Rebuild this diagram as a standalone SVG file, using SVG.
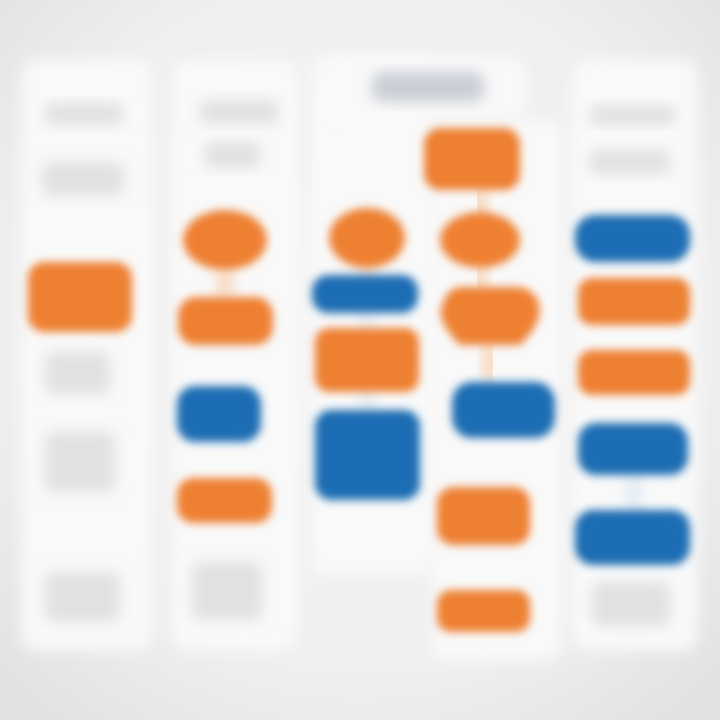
<svg xmlns="http://www.w3.org/2000/svg" width="720" height="720" viewBox="0 0 720 720">
<defs>
<radialGradient id="bg" cx="50%" cy="45%" r="70%">
<stop offset="0" stop-color="#f6f6f6"/><stop offset="0.7" stop-color="#efefef"/><stop offset="1" stop-color="#e2e2e2"/>
</radialGradient>
<filter id="blur" x="-30%" y="-30%" width="160%" height="160%"><feGaussianBlur stdDeviation="4"/></filter>
<filter id="soft" x="-30%" y="-30%" width="160%" height="160%"><feGaussianBlur stdDeviation="7"/></filter>
<style>
.o{fill:#EE8033;filter:url(#blur)}
.b{fill:#1F6DB3;filter:url(#blur)}
.g{fill:#e1e1e1;filter:url(#soft)}
.p{fill:#f9f9f9;filter:url(#soft)}
.c{stroke:#f6d4b8;stroke-width:14;filter:url(#soft);fill:none}
.cb{stroke:#dbe7f2;stroke-width:12;filter:url(#soft);fill:none}
</style>
</defs>
<rect width="720" height="720" fill="url(#bg)"/>
<g id="panels">
<rect class="p" x="22" y="60" width="130" height="590" rx="14"/>
<rect class="p" x="172" y="60" width="125" height="590" rx="14"/>
<rect class="p" x="312" y="55" width="120" height="520" rx="14"/>
<rect class="p" x="335" y="58" width="190" height="60" rx="12"/>
<rect class="p" x="432" y="120" width="130" height="540" rx="14"/>
<rect class="p" x="572" y="60" width="125" height="590" rx="14"/>
</g>
<g id="connectors">
<path class="c" d="M480 190 V215 M480 268 V290 M490 345 V380"/>
<path class="c" d="M634 325 V352 M634 262 V280"/>
<path class="c" d="M225 270 V298 M367 268 V278"/>
<path class="cb" d="M367 312 V328 M367 392 V410 M634 475 V512"/>
</g>
<g id="col1">
<rect class="g" x="45" y="103" width="78" height="22" rx="6"/>
<rect class="g" x="42" y="162" width="82" height="34" rx="8"/>
<rect id="n1" class="o" x="28" y="262" width="104" height="70" rx="16"/>
<rect class="g" x="45" y="352" width="65" height="42" rx="8"/>
<rect class="g" x="45" y="432" width="70" height="60" rx="8"/>
<rect class="g" x="45" y="572" width="75" height="50" rx="8"/>
</g>
<g id="col2">
<rect class="g" x="200" y="100" width="78" height="24" rx="6"/>
<rect class="g" x="205" y="142" width="55" height="26" rx="6"/>
<ellipse id="n2" class="o" cx="225" cy="240" rx="42" ry="30"/>
<rect id="n3" class="o" x="178" y="297" width="95" height="48" rx="18"/>
<rect id="n4" class="b" x="177" y="386" width="84" height="56" rx="18"/>
<rect id="n5" class="o" x="177" y="478" width="95" height="45" rx="16"/>
<rect class="g" x="192" y="562" width="70" height="58" rx="8"/>
</g>
<g id="col3">
<rect id="title" class="g" x="372" y="72" width="112" height="30" rx="10" style="fill:#c9ced6"/>
<ellipse id="n6" class="o" cx="367" cy="238" rx="38" ry="30"/>
<rect id="n7" class="b" x="312" y="275" width="106" height="38" rx="16"/>
<rect id="n8" class="o" x="315" y="328" width="104" height="64" rx="14"/>
<rect id="n9" class="b" x="315" y="410" width="105" height="90" rx="16"/>
</g>
<g id="col4">
<rect id="n10" class="o" x="424" y="128" width="96" height="62" rx="16"/>
<ellipse id="n11" class="o" cx="480" cy="240" rx="40" ry="28"/>
<path id="n12" class="o" d="M462 287 H518 Q530 287 538 300 L540 313 Q536 330 520 345 H460 Q444 330 440 313 L444 300 Q450 287 462 287 Z"/>
<rect id="n13" class="b" x="452" y="382" width="103" height="56" rx="20"/>
<rect id="n14" class="o" x="437" y="487" width="93" height="58" rx="16"/>
<rect id="n15" class="o" x="437" y="590" width="93" height="42" rx="14"/>
</g>
<g id="col5">
<rect class="g" x="590" y="105" width="85" height="20" rx="6"/>
<rect class="g" x="590" y="150" width="80" height="24" rx="6"/>
<rect id="n16" class="b" x="575" y="215" width="115" height="47" rx="20"/>
<rect id="n17" class="o" x="578" y="278" width="112" height="47" rx="14"/>
<rect id="n18" class="o" x="578" y="350" width="112" height="45" rx="14"/>
<rect id="n19" class="b" x="578" y="423" width="110" height="52" rx="18"/>
<rect id="n20" class="b" x="575" y="510" width="115" height="55" rx="18"/>
<rect class="g" x="592" y="582" width="78" height="44" rx="8"/>
</g>
</svg>
